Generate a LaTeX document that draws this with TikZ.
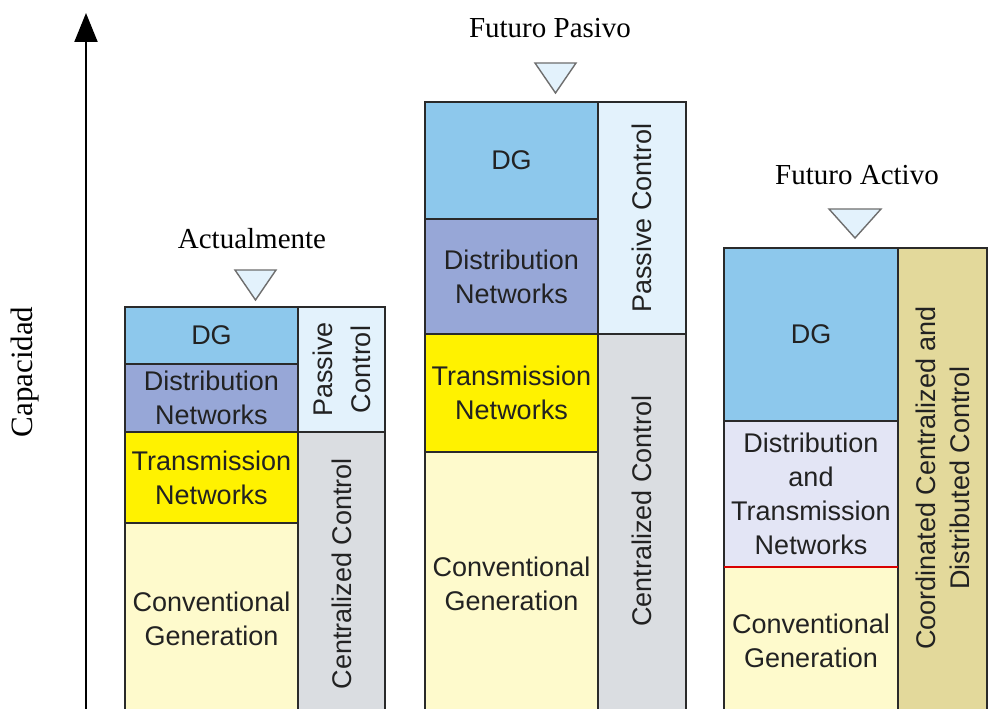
\documentclass[tikz,border=0pt]{standalone}
\usepackage{fontspec}
\setmainfont{Liberation Serif}
\newfontfamily\boxfont{Liberation Sans}
\usetikzlibrary{arrows.meta}
\definecolor{dgblue}{HTML}{8DC8EC}
\definecolor{distblue}{HTML}{97A7D7}
\definecolor{transyellow}{HTML}{FFF200}
\definecolor{convyellow}{HTML}{FEFACC}
\definecolor{passiveblue}{HTML}{E3F2FC}
\definecolor{centgrey}{HTML}{DADDE1}
\definecolor{coordtan}{HTML}{E3D99B}
\definecolor{dtlav}{HTML}{E3E5F5}
\definecolor{edgec}{HTML}{2A2A2A}
\definecolor{txtc}{HTML}{222222}
\definecolor{trigrey}{HTML}{6E6E6E}
\begin{document}
\begin{tikzpicture}[x=1pt,y=-1pt,
  cell/.style={draw=edgec, line width=1.6pt, text=txtc, font=\boxfont\fontsize{27}{34}\selectfont,
    align=center, inner sep=0pt, outer sep=0pt, anchor=north west},
  vtext/.style={rotate=90, text=txtc, font=\boxfont\fontsize{27}{34}\selectfont, align=center, inner sep=0pt},
  title/.style={font=\fontsize{29}{32}\selectfont, text=black, inner sep=0pt},
  tri/.style={draw=trigrey, fill=passiveblue, line width=1.4pt, line join=miter},
  axis/.style={draw=black, line width=2pt, -{Triangle[length=29pt,width=23pt]}}]
\useasboundingbox (0,0) rectangle (999,709);
\clip (0,0) rectangle (999,709);
\fill[white] (0,0) rectangle (999,709);

% axis
\coordinate (axb) at (86,712);
\coordinate (axt) at (86,13);
\draw[axis] (axb) -- (axt);
\node[title, rotate=90, font=\fontsize{31}{34}\selectfont] (cap) at (25,372) {Capacidad};

% Column 1: Actualmente
\node[cell, fill=dgblue, minimum width=173pt, minimum height=57pt] (a1) at (125,307) {DG};
\node[cell, fill=distblue, minimum width=173pt, minimum height=68pt] (a2) at (125,364) {Distribution\\Networks};
\node[cell, fill=transyellow, minimum width=173pt, minimum height=91pt] (a3) at (125,432) {Transmission\\Networks};
\node[cell, fill=convyellow, minimum width=173pt, minimum height=192pt] (a4) at (125,523) {Conventional\\Generation};
\node[cell, fill=passiveblue, minimum width=87pt, minimum height=125pt] (a5) at (298,307) {};
\node[cell, fill=centgrey, minimum width=87pt, minimum height=283pt] (a6) at (298,432) {};
\node[vtext, font=\boxfont\fontsize{27}{38}\selectfont] (a5t) at (342,369.5) {Passive\\Control};
\node[vtext] (a6t) at (a6.center) {Centralized Control};
\node[title] (t1) at (252,239) {Actualmente};
\draw[tri] (235,270) -- (276,270) -- (255.5,300) -- cycle;

% Column 2: Futuro Pasivo
\node[cell, fill=dgblue, minimum width=173pt, minimum height=117pt] (b1) at (425,102) {DG};
\node[cell, fill=distblue, minimum width=173pt, minimum height=115pt] (b2) at (425,219) {Distribution\\Networks};
\node[cell, fill=transyellow, minimum width=173pt, minimum height=118pt] (b3) at (425,334) {Transmission\\Networks};
\node[cell, fill=convyellow, minimum width=173pt, minimum height=263pt] (b4) at (425,452) {Conventional\\Generation};
\node[cell, fill=passiveblue, minimum width=88pt, minimum height=232pt] (b5) at (598,102) {};
\node[cell, fill=centgrey, minimum width=88pt, minimum height=381pt] (b6) at (598,334) {};
\node[vtext] (b5t) at (b5.center) {Passive Control};
\node[vtext] (b6t) at (642,511) {Centralized Control};
\node[title] (t2) at (550,28) {Futuro Pasivo};
\draw[tri] (535,63) -- (576,63) -- (555.5,93) -- cycle;

% Column 3: Futuro Activo
\node[cell, fill=dgblue, minimum width=174pt, minimum height=173pt] (c1) at (724,248) {DG};
\node[cell, fill=dtlav, minimum width=174pt, minimum height=146pt] (c2) at (724,421) {Distribution\\and\\Transmission\\Networks};
\node[cell, fill=convyellow, minimum width=174pt, minimum height=148pt] (c3) at (724,567) {Conventional\\Generation};
\node[cell, fill=coordtan, minimum width=89pt, minimum height=467pt] (c4) at (898,248) {};
\node[vtext] (c4t) at (942.5,478) {Coordinated Centralized and\\Distributed Control};
\draw[red!85!black, line width=1.8pt] (c2.south west) -- (c2.south east);
\node[title] (t3) at (857,175) {Futuro Activo};
\draw[tri] (829,209) -- (881,209) -- (855,238) -- cycle;
\end{tikzpicture}
\end{document}
